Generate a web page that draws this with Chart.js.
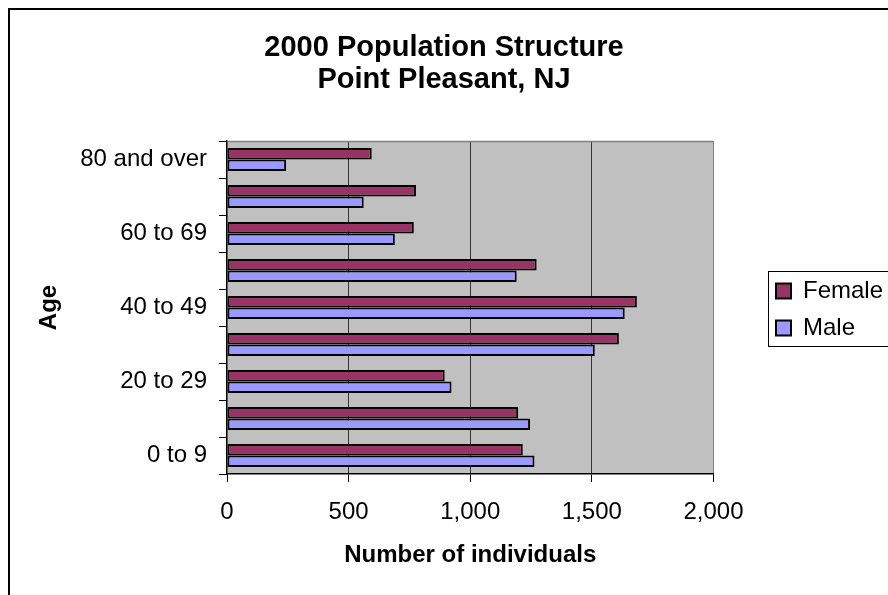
<!DOCTYPE html>
<html>
<head>
<meta charset="utf-8">
<script src="https://cdn.jsdelivr.net/npm/chart.js@4.4.1/dist/chart.umd.min.js"></script>
<style>
  html, body { margin: 0; padding: 0; background: #fff; }
  #wrap { width: 888px; height: 595px; position: relative; }
</style>
</head>
<body>
<div id="wrap"><canvas id="c"></canvas></div>
<script>
// Categories listed top to bottom as they appear in the chart
const ageGroups = ['80 and over', '70 to 79', '60 to 69', '50 to 59', '40 to 49', '30 to 39', '20 to 29', '10 to 19', '0 to 9'];
const femaleCounts = [595, 777, 768, 1273, 1685, 1611, 895, 1197, 1216];
const maleCounts = [243, 562, 690, 1191, 1635, 1512, 923, 1246, 1264];
const xTickValues = [0, 500, 1000, 1500, 2000];
const titleLines = ['2000 Population Structure', 'Point Pleasant, NJ'];
const xAxisTitle = 'Number of individuals';
const yAxisTitle = 'Age';

Chart.defaults.font.family = '"Liberation Sans", Arial, sans-serif';
Chart.defaults.color = '#000';

const framePlugin = {
  id: 'frame',
  beforeDraw(chart) {
    const ctx = chart.ctx;
    const a = chart.chartArea;
    ctx.save();
    ctx.fillStyle = '#ffffff';
    ctx.fillRect(0, 0, chart.width, chart.height);
    ctx.fillStyle = '#C0C0C0';
    ctx.fillRect(a.left, a.top, a.right - a.left, a.bottom - a.top);
    ctx.restore();
  },
  afterDraw(chart) {
    const ctx = chart.ctx;
    const a = chart.chartArea;
    ctx.save();
    // plot area top border
    ctx.strokeStyle = '#808080';
    ctx.lineWidth = 1.5;
    ctx.beginPath();
    ctx.moveTo(a.left, a.top + 0.5);
    ctx.lineTo(a.right, a.top + 0.5);
    ctx.stroke();
    // outer chart frame
    ctx.strokeStyle = '#000';
    ctx.lineWidth = 2;
    ctx.strokeRect(9, 9, chart.width + 20, chart.height + 20);
    // legend frame
    const hb = chart.legend && chart.legend.legendHitBoxes;
    if (hb && hb.length) {
      const first = hb[0], last = hb[hb.length - 1];
      const x = first.left - 8;
      const y = first.top - 8;
      const bottom = last.top + last.height + 6;
      ctx.lineWidth = 1;
      ctx.strokeStyle = '#000';
      ctx.strokeRect(Math.round(x) + 0.5, Math.round(y) + 0.5, chart.width, Math.round(bottom - y));
    }
    ctx.restore();
  }
};

new Chart(document.getElementById('c'), {
  type: 'bar',
  data: {
    labels: ageGroups,
    datasets: [
      {
        label: 'Female',
        data: femaleCounts,
        backgroundColor: '#993366',
        borderColor: '#000',
        borderWidth: 2,
        borderSkipped: false,
        categoryPercentage: 0.62,
        barPercentage: 1.0
      },
      {
        label: 'Male',
        data: maleCounts,
        backgroundColor: '#9999FF',
        borderColor: '#000',
        borderWidth: 2,
        borderSkipped: false,
        categoryPercentage: 0.62,
        barPercentage: 1.0
      }
    ]
  },
  options: {
    indexAxis: 'y',
    responsive: true,
    maintainAspectRatio: false,
    animation: false,
    layout: { padding: { left: 0, right: 0, top: 0, bottom: 0 } },
    plugins: {
      title: {
        display: true,
        text: titleLines,
        color: '#000',
        font: { size: 29, weight: 'bold', lineHeight: '32px' },
        padding: { top: 32, bottom: 45 }
      },
      legend: {
        display: true,
        position: 'right',
        align: 'center',
        maxWidth: 125,
        title: {
          display: true,
          text: ' ',
          font: { size: 10, lineHeight: '12px' },
          padding: 6
        },
        labels: {
          color: '#000',
          font: { size: 24 },
          boxWidth: 15,
          boxHeight: 15,
          padding: 13
        }
      },
      tooltip: { enabled: false }
    },
    scales: {
      x: {
        type: 'linear',
        position: 'bottom',
        min: 0,
        max: 2000,
        afterBuildTicks(scale) {
          scale.ticks = xTickValues.map(v => ({ value: v }));
        },
        afterFit(scale) { scale.height = 121; },
        ticks: {
          font: { size: 24 },
          color: '#000',
          padding: 16,
          maxRotation: 0,
          callback: v => Number(v).toLocaleString('en-US')
        },
        grid: {
          display: true,
          drawOnChartArea: true,
          drawTicks: true,
          tickLength: 8,
          tickColor: '#000',
          lineWidth: 1,
          color: ctx => {
            const v = ctx.tick && ctx.tick.value;
            if (v === 0) return 'rgba(0,0,0,0)';
            if (v === 2000) return '#808080';
            return '#333333';
          }
        },
        border: { display: true, color: '#000', width: 1.5 },
        title: {
          display: true,
          text: xAxisTitle,
          color: '#000',
          font: { size: 24, weight: 'bold' },
          padding: 25
        }
      },
      y: {
        type: 'category',
        position: 'left',
        offset: true,
        afterFit(scale) { scale.width = 227; },
        ticks: {
          autoSkip: false,
          font: { size: 24 },
          color: '#000',
          padding: 12,
          callback: function (value, index) {
            return index % 2 === 0 ? this.getLabelForValue(value) : '';
          }
        },
        grid: {
          display: true,
          offset: true,
          drawOnChartArea: false,
          drawTicks: true,
          tickLength: 8,
          tickColor: '#000',
          color: '#000'
        },
        border: { display: true, color: '#000', width: 1.5 },
        title: {
          display: true,
          text: yAxisTitle,
          color: '#000',
          font: { size: 24, weight: 'bold' },
          padding: 35
        }
      },
      spacer: {
        type: 'linear',
        position: 'right',
        display: true,
        afterFit(scale) { scale.width = 49.5; },
        ticks: { display: false },
        grid: { display: false, drawTicks: false },
        border: { display: false }
      }
    }
  },
  plugins: [framePlugin]
});
</script>
</body>
</html>
